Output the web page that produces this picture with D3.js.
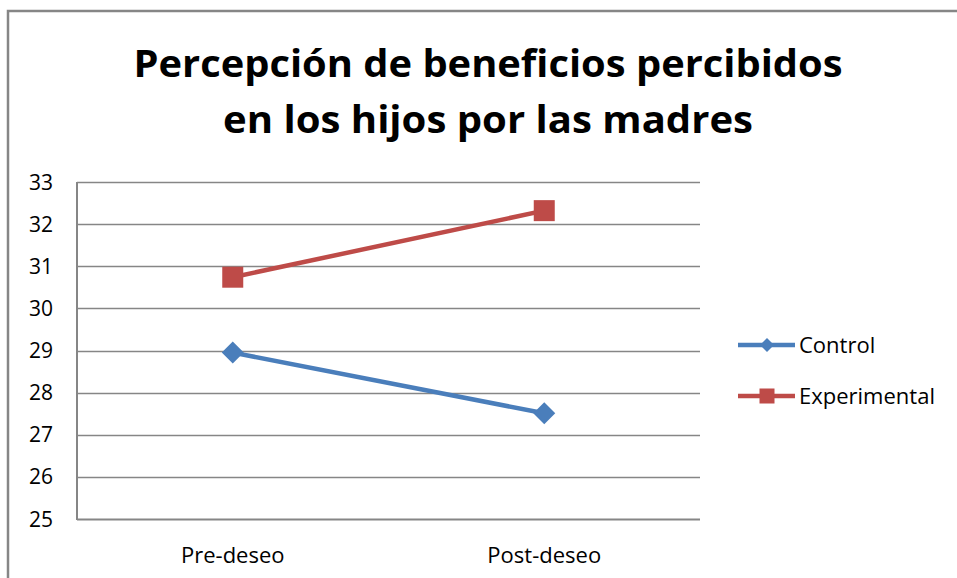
<!DOCTYPE html>
<html lang="es">
  <head>
    <meta charset="utf-8" />
    <title>Percepción de beneficios percibidos</title>
    <script src="https://d3js.org/d3.v7.min.js"></script>
    <style type="text/css">
      body { margin: 0; background: #fff; }
      text { font-family: 'Open Sans', sans-serif; fill: #000; }
    </style>
  </head>
  <body>
    <script type="text/javascript">
      const w = 957;
      const h = 578;

      // data
      const categories = ['Pre-deseo', 'Post-deseo'];
      const control = [28.95, 27.51];
      const experimental = [30.74, 32.32];
      const yTicks = [25, 26, 27, 28, 29, 30, 31, 32, 33];
      const titleLines = ['Percepción de beneficios percibidos', 'en los hijos por las madres'];
      const titleWidths = [709, 530];

      const series = [
        { name: 'Control', values: control, color: '#4a7ebb', marker: 'diamond' },
        { name: 'Experimental', values: experimental, color: '#be4b48', marker: 'square' },
      ];

      const plot = { left: 77, right: 700, top: 182, bottom: 519 };

      const xScale = d3.scaleBand().domain(categories).range([plot.left, plot.right]);
      const yScale = d3.scaleLinear().domain([25, 33]).range([plot.bottom, plot.top]);

      const svg = d3.select('body').append('svg').attr('width', w).attr('height', h);

      // outer chart border
      svg.append('rect')
        .attr('x', 8).attr('y', 11)
        .attr('width', w + 20).attr('height', h + 20)
        .attr('fill', 'none')
        .attr('stroke', '#868686')
        .attr('stroke-width', 2.5);

      // title
      svg.append('g')
        .selectAll('text')
        .data(titleLines)
        .enter()
        .append('text')
        .attr('x', 488)
        .attr('y', (d, i) => 77 + i * 56)
        .attr('text-anchor', 'middle')
        .attr('font-size', '38px')
        .attr('font-weight', 'bold')
        .attr('textLength', (d, i) => titleWidths[i])
        .attr('lengthAdjust', 'spacingAndGlyphs')
        .text((d) => d);

      // gridlines
      svg.append('g')
        .selectAll('line')
        .data(yTicks)
        .enter()
        .append('line')
        .attr('x1', plot.left)
        .attr('x2', plot.right)
        .attr('y1', (d) => Math.round(yScale(d)) + 0.5)
        .attr('y2', (d) => Math.round(yScale(d)) + 0.5)
        .attr('stroke', '#868686')
        .attr('stroke-width', (d) => (d === 25 ? 2 : 1.3));

      // y axis line
      svg.append('line')
        .attr('x1', plot.left).attr('x2', plot.left)
        .attr('y1', plot.top).attr('y2', plot.bottom + 1)
        .attr('stroke', '#868686')
        .attr('stroke-width', 2);

      // y tick labels
      svg.append('g')
        .selectAll('text')
        .data(yTicks)
        .enter()
        .append('text')
        .attr('x', 53)
        .attr('y', (d) => yScale(d))
        .attr('dy', '0.36em')
        .attr('text-anchor', 'end')
        .attr('font-size', '21px')
        .text((d) => d);

      // x labels
      svg.append('g')
        .selectAll('text')
        .data(categories)
        .enter()
        .append('text')
        .attr('x', (d) => xScale(d) + xScale.bandwidth() / 2)
        .attr('y', 563)
        .attr('text-anchor', 'middle')
        .attr('font-size', '22px')
        .text((d) => d);

      const cx = (i) => xScale(categories[i]) + xScale.bandwidth() / 2;
      const line = d3.line().x((d, i) => cx(i)).y((d) => yScale(d));

      function marker(g, type, color, size) {
        if (type === 'square') {
          g.append('rect')
            .attr('x', -size / 2).attr('y', -size / 2)
            .attr('width', size).attr('height', size)
            .attr('fill', color);
        } else {
          const r = size / 2;
          g.append('path')
            .attr('d', `M0,${-r}L${r},0L0,${r}L${-r},0Z`)
            .attr('fill', color);
        }
      }

      series.forEach((s) => {
        svg.append('path')
          .datum(s.values)
          .attr('d', line)
          .attr('fill', 'none')
          .attr('stroke', s.color)
          .attr('stroke-width', 4.5);

        s.values.forEach((v, i) => {
          const g = svg.append('g').attr('transform', `translate(${cx(i)},${yScale(v)})`);
          marker(g, s.marker, s.color, s.marker === 'square' ? 21 : 22);
        });
      });

      // legend
      const legend = svg.append('g')
        .selectAll('g')
        .data(series)
        .enter()
        .append('g')
        .attr('transform', (d, i) => `translate(738,${345 + i * 51})`);

      legend.append('line')
        .attr('x1', 0).attr('x2', 57)
        .attr('stroke', (d) => d.color)
        .attr('stroke-width', 4.5);

      legend.each(function (d) {
        const g = d3.select(this).append('g').attr('transform', 'translate(29,0)');
        marker(g, d.marker, d.color, d.marker === 'square' ? 15 : 14);
      });

      legend.append('text')
        .attr('x', 61)
        .attr('dy', '0.36em')
        .attr('font-size', '22px')
        .text((d) => d.name);
    </script>
  </body>
</html>
